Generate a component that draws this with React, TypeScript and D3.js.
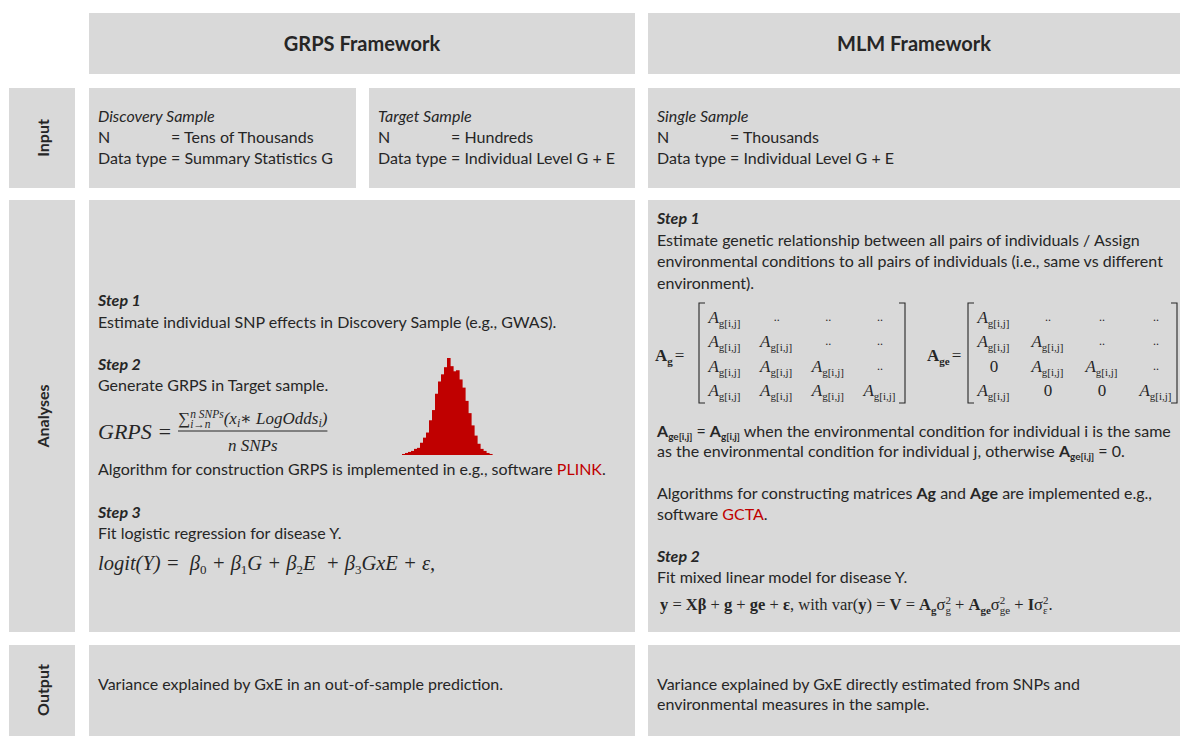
import React, { useEffect, useRef } from "react";
import * as d3 from "d3";

// ---- content -------------------------------------------------------------
const frameworks = ["GRPS Framework", "MLM Framework"];
const rowLabels = ["Input", "Analyses", "Output"];

const discoverySample = ["Discovery Sample", "Tens of Thousands", "Summary Statistics G"];
const targetSample = ["Target Sample", "Hundreds", "Individual Level G + E"];
const singleSample = ["Single Sample", "Thousands", "Individual Level G + E"];

// GRPS distribution in target sample (bin counts)
const grpsBins = [1, 2, 3, 4, 6, 7, 12, 17, 22, 34, 44, 60, 72, 79, 86, 95, 87, 82, 83, 74, 66, 53, 41, 29, 19, 11, 6, 4, 2, 1];

// "A" = A_g[i,j] entry, ".." = dots, "0" = zero
const agMatrix = [
  ["A", "..", "..", ".."],
  ["A", "A", "..", ".."],
  ["A", "A", "A", ".."],
  ["A", "A", "A", "A"],
];
const ageMatrix = [
  ["A", "..", "..", ".."],
  ["A", "A", "..", ".."],
  ["0", "A", "A", ".."],
  ["A", "0", "0", "A"],
];

const outputGrps = ["Variance explained by GxE in an out-of-sample prediction."];
const outputMlm = [
  "Variance explained by GxE directly estimated from SNPs and",
  "environmental measures in the sample.",
];

const SANS = "Lato, 'Open Sans', sans-serif";
const SERIF = "'Liberation Serif', 'DejaVu Serif', serif";
const INK = "#262626";
const RED = "#c00000";
const BOX = "#d9d9d9";

type Seg = {
  t?: string;
  b?: boolean;
  i?: boolean;
  c?: string;
  f?: string;
  s?: number;
  dy?: number;
  stack?: [Seg, Seg];
};

// draws a line made of styled pieces, returns end x
function rich(parent: any, x: number, y: number, segs: Seg[], base: { f: string; s: number }) {
  let cx = x;
  const piece = (s: Seg, px: number) => {
    const t = parent
      .append("text")
      .attr("x", px)
      .attr("y", y + (s.dy || 0))
      .attr("xml:space", "preserve")
      .style("white-space", "pre")
      .style("font-family", s.f || base.f)
      .style("font-size", (s.s || base.s) + "px")
      .style("font-weight", s.b ? "bold" : "normal")
      .style("font-style", s.i ? "italic" : "normal")
      .attr("fill", s.c || INK)
      .text(s.t || "");
    return t.node().getComputedTextLength();
  };
  segs.forEach((s) => {
    if (s.stack) {
      const w1 = piece(s.stack[0], cx);
      const w2 = piece(s.stack[1], cx);
      cx += Math.max(w1, w2);
    } else {
      cx += piece(s, cx);
    }
  });
  return cx;
}

const App = () => {
  const svgRef = useRef<SVGSVGElement>(null);

  useEffect(() => {
    const svg = d3.select(svgRef.current);
    svg.selectAll("*").remove();

    const body = { f: SANS, s: 16 };

    // ---- boxes ----
    const boxes = [
      [89, 13, 546, 61],
      [648, 13, 560, 61],
      [9, 88, 66, 100],
      [89, 88, 267, 100],
      [369, 88, 266, 100],
      [648, 88, 560, 100],
      [9, 200, 66, 432],
      [89, 200, 546, 432],
      [648, 200, 560, 432],
      [9, 645, 66, 120],
      [89, 645, 546, 120],
      [648, 645, 560, 120],
    ];
    svg
      .selectAll("rect.box")
      .data(boxes)
      .join("rect")
      .attr("class", "box")
      .attr("x", (d) => d[0])
      .attr("y", (d) => d[1])
      .attr("width", (d) => d[2])
      .attr("height", (d) => d[3])
      .attr("fill", BOX);

    // ---- headers ----
    const headerX = [362, 914];
    frameworks.forEach((f, i) => {
      svg
        .append("text")
        .attr("x", headerX[i])
        .attr("y", 51)
        .attr("text-anchor", "middle")
        .style("font-family", SANS)
        .style("font-weight", "bold")
        .style("font-size", "20px")
        .attr("fill", INK)
        .text(f);
    });

    const labelY = [138, 416, 690];
    rowLabels.forEach((l, i) => {
      svg
        .append("text")
        .attr("transform", `translate(42,${labelY[i]}) rotate(-90)`)
        .attr("text-anchor", "middle")
        .attr("dominant-baseline", "central")
        .style("font-family", SANS)
        .style("font-weight", "bold")
        .style("font-size", "16px")
        .attr("fill", INK)
        .text(l);
    });

    // ---- input row ----
    const inputBlock = (x: number, d: string[]) => {
      rich(svg, x, 122, [{ t: d[0], i: true }], body);
      rich(svg, x, 143, [{ t: "N" }], body);
      const eqX = rich(svg, x, 164, [{ t: "Data type " }], body);
      rich(svg, eqX, 143, [{ t: "= " + d[1] }], body);
      rich(svg, eqX, 164, [{ t: "= " + d[2] }], body);
    };
    inputBlock(98, discoverySample);
    inputBlock(378, targetSample);
    inputBlock(657, singleSample);

    // ---- GRPS analyses ----
    rich(svg, 98, 306, [{ t: "Step 1", b: true, i: true }], body);
    rich(svg, 98, 328, [{ t: "Estimate individual SNP effects in Discovery Sample (e.g., GWAS)." }], body);
    rich(svg, 98, 370, [{ t: "Step 2", b: true, i: true }], body);
    rich(svg, 98, 391, [{ t: "Generate GRPS in Target sample." }], body);

    const m = { f: SERIF, s: 17 };
    rich(svg, 98, 439, [{ t: "GRPS = ", i: true, s: 22 }], m);
    const numEnd = rich(
      svg,
      178,
      424,
      [
        { t: "∑", s: 17 },
        { stack: [{ t: "n SNPs", i: true, s: 11.5, dy: -6 }, { t: "i→n", i: true, s: 11.5, dy: 4 }] },
        { t: "(x", i: true },
        { t: "i", i: true, s: 12, dy: 3 },
        { t: "∗ LogOdds", i: true },
        { t: "i", i: true, s: 12, dy: 3 },
        { t: ")", i: true },
      ],
      m
    );
    svg
      .append("line")
      .attr("x1", 178)
      .attr("x2", numEnd)
      .attr("y1", 431)
      .attr("y2", 431)
      .attr("stroke", INK)
      .attr("stroke-width", 1);
    svg
      .append("text")
      .attr("x", (178 + numEnd) / 2)
      .attr("y", 451)
      .attr("text-anchor", "middle")
      .style("font-family", SERIF)
      .style("font-style", "italic")
      .style("font-size", "17px")
      .attr("fill", INK)
      .text("n  SNPs");

    // histogram of GRPS
    const hx = d3.scaleBand<number>().domain(d3.range(grpsBins.length)).range([402, 492]);
    const hy = d3.scaleLinear().domain([0, d3.max(grpsBins) as number]).range([455, 358]);
    svg
      .append("g")
      .selectAll("rect")
      .data(grpsBins)
      .join("rect")
      .attr("x", (_, i) => hx(i) as number)
      .attr("y", (d) => hy(d))
      .attr("width", hx.bandwidth() + 0.6)
      .attr("height", (d) => hy(0) - hy(d))
      .attr("fill", RED);

    rich(
      svg,
      98,
      475,
      [{ t: "Algorithm for construction GRPS is implemented in e.g., software " }, { t: "PLINK", c: RED }, { t: "." }],
      body
    );
    rich(svg, 98, 518, [{ t: "Step 3", b: true, i: true }], body);
    rich(svg, 98, 539, [{ t: "Fit logistic regression for disease Y." }], body);
    const lg = { f: SERIF, s: 20.5 };
    rich(
      svg,
      98,
      570,
      [
        { t: "logit(Y) =  β", i: true },
        { t: "0", s: 13, dy: 4 },
        { t: " + β", i: true },
        { t: "1", s: 13, dy: 4 },
        { t: "G + β", i: true },
        { t: "2", s: 13, dy: 4 },
        { t: "E  + β", i: true },
        { t: "3", s: 13, dy: 4 },
        { t: "GxE + ε,", i: true },
      ],
      lg
    );

    // ---- MLM analyses ----
    rich(svg, 657, 224, [{ t: "Step 1", b: true, i: true }], body);
    rich(svg, 657, 246, [{ t: "Estimate genetic relationship between all pairs of individuals / Assign" }], body);
    rich(svg, 657, 267, [{ t: "environmental conditions to all pairs of individuals (i.e., same vs different" }], body);
    rich(svg, 657, 289, [{ t: "environment)." }], body);

    // matrices
    const rowY = d3.scalePoint<number>().domain(d3.range(4)).range([323, 396]);
    const drawMatrix = (
      mat: string[][],
      name: string,
      labelX: number,
      left: number,
      right: number,
      cols: number[]
    ) => {
      const lab = rich(
        svg,
        labelX,
        361,
        [{ t: "A", b: true, s: 17 }, { t: name, b: true, s: 11, dy: 4 }],
        { f: SERIF, s: 17 }
      );
      rich(svg, lab + 2, 361, [{ t: "=" }], { f: SERIF, s: 17 });
      const br = (x: number, dir: number) =>
        `M${x + dir * 6},303 H${x} V403 H${x + dir * 6}`;
      svg.append("path").attr("d", br(left, 1)).attr("fill", "none").attr("stroke", INK).attr("stroke-width", 1.1);
      svg.append("path").attr("d", br(right, -1)).attr("fill", "none").attr("stroke", INK).attr("stroke-width", 1.1);
      const colX = d3.scalePoint<number>().domain(d3.range(4)).range([cols[0], cols[1]]);
      mat.forEach((row, r) => {
        row.forEach((cell, c) => {
          const g = svg.append("g");
          if (cell === "A") {
            rich(
              g,
              0,
              rowY(r) as number,
              [{ t: "A", i: true, s: 17 }, { t: "g[i,j]", s: 11, dy: 4 }],
              { f: SERIF, s: 17 }
            );
          } else {
            rich(g, 0, (rowY(r) as number) - (cell === ".." ? 2 : 0), [{ t: cell, s: cell === ".." ? 12 : 17 }], {
              f: SERIF,
              s: 17,
            });
          }
          const w = (g.node() as SVGGElement).getBBox().width;
          g.attr("transform", `translate(${(colX(c) as number) - w / 2},0)`);
        });
      });
    };
    drawMatrix(agMatrix, "g", 655, 699, 905, [725, 880]);
    drawMatrix(ageMatrix, "ge", 927, 968, 1177, [994, 1156]);

    rich(
      svg,
      657,
      437,
      [
        { t: "A", b: true },
        { t: "ge[i,j]", b: true, s: 10, dy: 3 },
        { t: " = " },
        { t: "A", b: true },
        { t: "g[i,j]", b: true, s: 10, dy: 3 },
        { t: " when the environmental condition for individual i is the same" },
      ],
      body
    );
    rich(
      svg,
      657,
      457,
      [
        { t: "as the environmental condition for individual j, otherwise " },
        { t: "A", b: true },
        { t: "ge[i,j]", b: true, s: 10, dy: 3 },
        { t: " = 0." },
      ],
      body
    );
    rich(
      svg,
      657,
      499,
      [
        { t: "Algorithms for constructing matrices " },
        { t: "Ag", b: true },
        { t: " and " },
        { t: "Age", b: true },
        { t: " are implemented e.g.," },
      ],
      body
    );
    rich(svg, 657, 520, [{ t: "software " }, { t: "GCTA", c: RED }, { t: "." }], body);
    rich(svg, 657, 562, [{ t: "Step 2", b: true, i: true }], body);
    rich(svg, 657, 583, [{ t: "Fit mixed linear model for disease Y." }], body);

    const sig = (sub: string): Seg => ({
      stack: [
        { t: "2", s: 11, dy: -6 },
        { t: sub, s: 11, dy: 4 },
      ],
    });
    rich(
      svg,
      660,
      610,
      [
        { t: "y", b: true },
        { t: " = " },
        { t: "Xβ", b: true },
        { t: " + " },
        { t: "g", b: true },
        { t: " + " },
        { t: "ge", b: true },
        { t: " + " },
        { t: "ε", b: true },
        { t: ", with var(" },
        { t: "y", b: true },
        { t: ") = " },
        { t: "V", b: true },
        { t: " = " },
        { t: "A", b: true },
        { t: "g", b: true, s: 11, dy: 4 },
        { t: "σ" },
        sig("g"),
        { t: " + " },
        { t: "A", b: true },
        { t: "ge", b: true, s: 11, dy: 4 },
        { t: "σ" },
        sig("ge"),
        { t: " + " },
        { t: "I", b: true },
        { t: "σ" },
        sig("ε"),
        { t: "." },
      ],
      { f: SERIF, s: 16.5 }
    );

    // ---- output row ----
    outputGrps.forEach((l, i) => rich(svg, 98, 690 + i * 20, [{ t: l }], body));
    outputMlm.forEach((l, i) => rich(svg, 657, 690 + i * 20, [{ t: l }], body));
  }, []);

  return (
    <svg
      ref={svgRef}
      width={1180}
      height={736}
      style={{ position: "absolute", left: 0, top: 0, background: "#fff", display: "block" }}
    />
  );
};

export default App;
